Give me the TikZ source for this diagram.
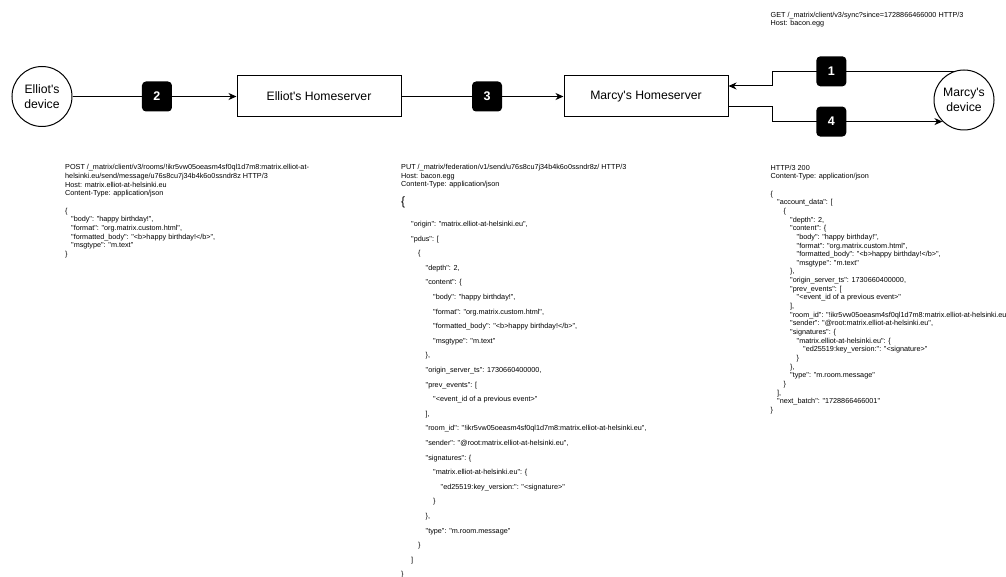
\documentclass[tikz,border=0pt]{standalone}
\usepackage{fontspec}
\setmainfont{Liberation Sans}[Ligatures=TeXOff]
\usetikzlibrary{arrows.meta,calc}
\newcommand{\jl}[2]{\hbox{\hskip#1pt\relax #2}}
\newcommand{\jb}{\hbox{}}
\begin{document}
\begin{tikzpicture}[x=1pt,y=-1pt,
  hsbox/.style={draw,line width=1pt,minimum width=164pt,minimum height=41pt,inner sep=0pt,font=\fontsize{12.2}{14.6}\selectfont},
  dev/.style={draw,circle,line width=1pt,minimum size=60pt,inner sep=0pt,align=center,font=\fontsize{12.2}{14.8}\selectfont},
  badge/.style={fill=black,rounded corners=4pt,minimum size=30pt,inner sep=0pt,text=white,font=\bfseries\fontsize{12.5}{15}\selectfont},
  conn/.style={line width=1pt},
  arr/.style={conn,-{Stealth[length=8pt,width=7pt,inset=2.5pt]}},
  code/.style={anchor=base west,inner sep=0pt,font=\fontsize{7.25}{8.65}\selectfont}]
\useasboundingbox (0,0) rectangle (1006,577);

% main nodes
\node[dev] (ed) at (42,96.5) {Elliot's\\device};
\node[hsbox] (ehs) at (319,96.5) {Elliot's Homeserver};
\node[hsbox] (mhs) at (646,96.5) {Marcy's Homeserver};
\node[dev] (md) at (964,100) {Marcy's\\device};
\coordinate (k) at (772,0);

% connectors
\draw[arr] (ed) -- node[badge,pos=0.515]{2} (ehs);
\draw[arr] (ehs) -- node[badge,pos=0.528]{3} (mhs);
\draw[arr] (md.110) -- node[badge,pos=0.673]{1} (md.110 -| k) |- ($(mhs.north east)!0.25!(mhs.south east)$);
\draw[arr] ($(mhs.north east)!0.75!(mhs.south east)$) -| (k |- md.south west) -- node[badge,pos=0.348]{4} (md.south west);

% GET text
\node[code] (get) at (770.5,17.3) {\vtop{%
\jl{0}{GET /\_matrix/client/v3/sync?since=1728866466000 HTTP/3}
\jl{0}{Host: bacon.egg}}};

% POST text
\node[code] (post) at (65,170) {\vtop{%
\jl{0}{POST /\_matrix/client/v3/rooms/!ikr5vw05oeasm4sf0ql1d7m8:matrix.elliot-at-}
\jl{0}{helsinki.eu/send/message/u76s8cu7j34b4k6o0ssndr8z HTTP/3}
\jl{0}{Host: matrix.elliot-at-helsinki.eu}
\jl{0}{Content-Type: application/json}
\jb
\jl{0}{\{}
\jl{6}{"body": "happy birthday!",}
\jl{6}{"format": "org.matrix.custom.html",}
\jl{6}{"formatted\_body": "<b>happy birthday!</b>",}
\jl{6}{"msgtype": "m.text"}
\jl{0}{\}}}};

% PUT text
\node[code] (put) at (401,169.5) {\vtop{%
\jl{0}{PUT /\_matrix/federation/v1/send/u76s8cu7j34b4k6o0ssndr8z/ HTTP/3}
\jl{0}{Host: bacon.egg}
\jl{0}{Content-Type: application/json}
\baselineskip=19.2pt
\hbox{\fontsize{12}{14}\selectfont\{}
\baselineskip=20.5pt
\jl{10}{"origin": "matrix.elliot-at-helsinki.eu",}
\baselineskip=14.6pt
\jl{10}{"pdus": [}
\jl{17}{\{}
\jl{24.5}{"depth": 2,}
\jl{24.5}{"content": \{}
\jl{32}{"body": "happy birthday!",}
\jl{32}{"format": "org.matrix.custom.html",}
\jl{32}{"formatted\_body": "<b>happy birthday!</b>",}
\jl{32}{"msgtype": "m.text"}
\jl{24.5}{\},}
\jl{24.5}{"origin\_server\_ts": 1730660400000,}
\jl{24.5}{"prev\_events": [}
\jl{32}{"<event\_id of a previous event>"}
\jl{24.5}{],}
\jl{24.5}{"room\_id": "!ikr5vw05oeasm4sf0ql1d7m8:matrix.elliot-at-helsinki.eu",}
\jl{24.5}{"sender": "@root:matrix.elliot-at-helsinki.eu",}
\jl{24.5}{"signatures": \{}
\jl{32}{"matrix.elliot-at-helsinki.eu": \{}
\jl{39.5}{"ed25519:key\_version:": "<signature>"}
\jl{32}{\}}
\jl{24.5}{\},}
\jl{24.5}{"type": "m.room.message"}
\jl{17}{\}}
\jl{10}{]}
\jl{0}{\}}}};

% response text
\node[code] (resp) at (770.5,170.2) {\vtop{%
\jl{0}{HTTP/3 200}
\jl{0}{Content-Type: application/json}
\jb
\jl{0}{\{}
\jl{6.5}{"account\_data": [}
\jl{13}{\{}
\jl{19.5}{"depth": 2,}
\jl{19.5}{"content": \{}
\jl{26}{"body": "happy birthday!",}
\jl{26}{"format": "org.matrix.custom.html",}
\jl{26}{"formatted\_body": "<b>happy birthday!</b>",}
\jl{26}{"msgtype": "m.text"}
\jl{19.5}{\},}
\jl{19.5}{"origin\_server\_ts": 1730660400000,}
\jl{19.5}{"prev\_events": [}
\jl{26}{"<event\_id of a previous event>"}
\jl{19.5}{],}
\jl{19.5}{"room\_id": "!ikr5vw05oeasm4sf0ql1d7m8:matrix.elliot-at-helsinki.eu",}
\jl{19.5}{"sender": "@root:matrix.elliot-at-helsinki.eu",}
\jl{19.5}{"signatures": \{}
\jl{26}{"matrix.elliot-at-helsinki.eu": \{}
\jl{32.5}{"ed25519:key\_version:": "<signature>"}
\jl{26}{\}}
\jl{19.5}{\},}
\jl{19.5}{"type": "m.room.message"}
\jl{13}{\}}
\jl{6.5}{],}
\jl{6.5}{"next\_batch": "1728866466001"}
\jl{0}{\}}}};
\end{tikzpicture}
\end{document}
